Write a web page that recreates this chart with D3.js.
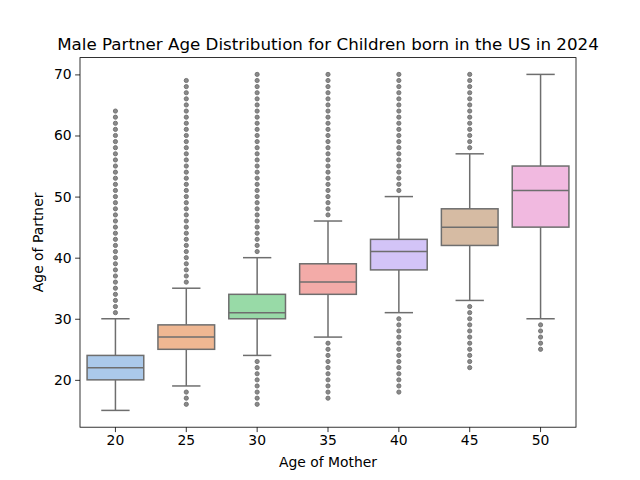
<!DOCTYPE html>
<html>
<head>
<meta charset="utf-8">
<script src="https://cdn.jsdelivr.net/npm/d3@7"></script>
<style>
  body { margin: 0; background: #fff; }
  svg { font-family: "DejaVu Sans", sans-serif; }
</style>
</head>
<body>
<svg id="chart" width="640" height="480"></svg>
<script>
// mother's age groups and the partner-age box statistics
var categories = ["20", "25", "30", "35", "40", "45", "50"];
var q1 = [20, 25, 30, 34, 38, 42, 45];
var median = [22, 27, 31, 36, 41, 45, 51];
var q3 = [24, 29, 34, 39, 43, 48, 55];
var whiskerLow = [15, 19, 24, 27, 31, 33, 30];
var whiskerHigh = [30, 35, 40, 46, 50, 57, 70];
var outliers = [
  [31, 32, 33, 34, 35, 36, 37, 38, 39, 40, 41, 42, 43, 44, 45, 46, 47, 48, 49, 50,
   51, 52, 53, 54, 55, 56, 57, 58, 59, 60, 61, 62, 63, 64],
  [16, 17, 18,
   36, 37, 38, 39, 40, 41, 42, 43, 44, 45, 46, 47, 48, 49, 50, 51, 52, 53, 54, 55,
   56, 57, 58, 59, 60, 61, 62, 63, 64, 65, 66, 67, 68, 69],
  [16, 17, 18, 19, 20, 21, 22, 23,
   41, 42, 43, 44, 45, 46, 47, 48, 49, 50, 51, 52, 53, 54, 55, 56, 57, 58, 59, 60,
   61, 62, 63, 64, 65, 66, 67, 68, 69, 70],
  [17, 18, 19, 20, 21, 22, 23, 24, 25, 26,
   47, 48, 49, 50, 51, 52, 53, 54, 55, 56, 57, 58, 59, 60, 61, 62, 63, 64, 65, 66,
   67, 68, 69, 70],
  [18, 19, 20, 21, 22, 23, 24, 25, 26, 27, 28, 29, 30,
   51, 52, 53, 54, 55, 56, 57, 58, 59, 60, 61, 62, 63, 64, 65, 66, 67, 68, 69, 70],
  [22, 23, 24, 25, 26, 27, 28, 29, 30, 31, 32,
   58, 59, 60, 61, 62, 63, 64, 65, 66, 67, 68, 69, 70],
  [25, 26, 27, 28, 29]
];
var yTicks = [20, 30, 40, 50, 60, 70];
var colors = ["#a1c9f4", "#ffb482", "#8de5a1", "#ff9f9b", "#d0bbff", "#debb9b", "#fab0e4"];

var margin = {top: 57.6, right: 64, bottom: 52.8, left: 80};
var width = 640 - margin.left - margin.right;
var height = 480 - margin.top - margin.bottom;
var lineColor = "#6e6e6e";
var lw = 1.5;

// seaborn knocks the palette saturation down a bit for boxes
function desat(c) {
  var h = d3.hsl(c);
  h.s *= 0.75;
  return h.formatHex();
}

var rows = categories.map(function(c, i) {
  return {cat: c, q1: q1[i], med: median[i], q3: q3[i],
          lo: whiskerLow[i], hi: whiskerHigh[i], out: outliers[i], color: desat(colors[i])};
});

var svg = d3.select("#chart");
var g = svg.append("g").attr("transform", "translate(" + margin.left + "," + margin.top + ")");

var x = d3.scaleBand().domain(categories).range([0, width]).paddingInner(0).paddingOuter(0);
var boxW = x.bandwidth() * 0.8;
var yMin = 15, yMax = 70, pad = (yMax - yMin) * 0.05;
var y = d3.scaleLinear().domain([yMin - pad, yMax + pad]).range([height, 0]);

// axes
var xAxis = g.append("g").attr("transform", "translate(0," + height + ")")
  .call(d3.axisBottom(x).tickSize(4.9).tickPadding(3.5));
var yAxis = g.append("g")
  .call(d3.axisLeft(y).tickValues(yTicks).tickSize(4.9).tickPadding(3.5));
[xAxis, yAxis].forEach(function(a) {
  a.selectAll(".domain").remove();
  a.selectAll("text").attr("font-size", "13.9px").attr("fill", "#000")
    .attr("font-family", "DejaVu Sans, sans-serif");
  a.selectAll("line").attr("stroke", "#000").attr("stroke-width", 0.8);
});

var boxes = g.selectAll(".box").data(rows).enter().append("g")
  .attr("transform", function(d) { return "translate(" + (x(d.cat) + x.bandwidth() / 2) + ",0)"; });

// whiskers
boxes.append("line").attr("x1", 0).attr("x2", 0)
  .attr("y1", function(d) { return y(d.lo); }).attr("y2", function(d) { return y(d.q1); })
  .attr("stroke", lineColor).attr("stroke-width", lw);
boxes.append("line").attr("x1", 0).attr("x2", 0)
  .attr("y1", function(d) { return y(d.q3); }).attr("y2", function(d) { return y(d.hi); })
  .attr("stroke", lineColor).attr("stroke-width", lw);
// caps
["lo", "hi"].forEach(function(k) {
  boxes.append("line").attr("x1", -boxW / 4).attr("x2", boxW / 4)
    .attr("y1", function(d) { return y(d[k]); }).attr("y2", function(d) { return y(d[k]); })
    .attr("stroke", lineColor).attr("stroke-width", lw);
});
// box
boxes.append("rect")
  .attr("x", -boxW / 2).attr("width", boxW)
  .attr("y", function(d) { return y(d.q3); })
  .attr("height", function(d) { return y(d.q1) - y(d.q3); })
  .attr("fill", function(d) { return d.color; })
  .attr("stroke", lineColor).attr("stroke-width", lw);
// median
boxes.append("line").attr("x1", -boxW / 2).attr("x2", boxW / 2)
  .attr("y1", function(d) { return y(d.med); }).attr("y2", function(d) { return y(d.med); })
  .attr("stroke", lineColor).attr("stroke-width", lw);
// fliers
boxes.selectAll("circle").data(function(d) { return d.out; }).enter().append("circle")
  .attr("cx", 0).attr("cy", function(v) { return y(v); }).attr("r", 2.1)
  .attr("fill", "#8a8a8a").attr("stroke", lineColor).attr("stroke-width", 0.9);

// frame
g.append("rect").attr("width", width).attr("height", height)
  .attr("fill", "none").attr("stroke", "#000").attr("stroke-width", 0.8);

// labels
svg.append("text").attr("x", margin.left + width / 2).attr("y", 49.5)
  .attr("text-anchor", "middle").attr("font-size", "16.7px")
  .text("Male Partner Age Distribution for Children born in the US in 2024");
svg.append("text").attr("x", margin.left + width / 2).attr("y", 467)
  .attr("text-anchor", "middle").attr("font-size", "13.9px").text("Age of Mother");
svg.append("text").attr("transform", "translate(43," + (margin.top + height / 2) + ") rotate(-90)")
  .attr("text-anchor", "middle").attr("font-size", "13.9px").text("Age of Partner");
</script>
</body>
</html>
